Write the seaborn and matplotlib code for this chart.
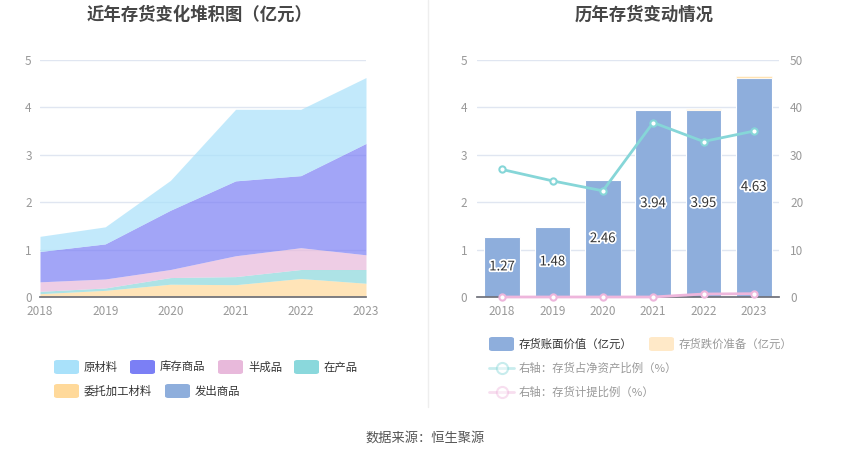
import numpy as np
import pandas as pd
import matplotlib
matplotlib.use("Agg")
import matplotlib.pyplot as plt
import matplotlib.patheffects as pe
from matplotlib.patches import FancyBboxPatch
from matplotlib.lines import Line2D
import seaborn as sns

# ---------------- data ----------------
years = ["2018", "2019", "2020", "2021", "2022", "2023"]
# left: stacked inventory composition (亿元), bottom -> top
fachu = [0.0, 0.0, 0.0, 0.0, 0.0, 0.0]                 # 发出商品
weituo = [0.07, 0.14, 0.27, 0.26, 0.39, 0.29]          # 委托加工材料
zaichan = [0.05, 0.05, 0.14, 0.17, 0.19, 0.29]         # 在产品
banchengpin = [0.20, 0.19, 0.17, 0.44, 0.46, 0.31]     # 半成品
kucun = [0.64, 0.74, 1.25, 1.58, 1.52, 2.35]           # 库存商品
yuancailiao = [0.32, 0.36, 0.63, 1.51, 1.40, 1.39]     # 原材料

# right: book value, impairment reserve, ratios
book_value = [1.27, 1.48, 2.46, 3.94, 3.95, 4.63]
reserve = [0.0, 0.0, 0.0, 0.0, 0.02, 0.04]
ratio_net_assets = [26.9, 24.5, 22.4, 36.8, 32.8, 35.0]
ratio_provision = [0.0, 0.0, 0.0, 0.0, 0.63, 0.70]

# ---------------- style ----------------
sns.set_theme(style="white")
plt.rcParams['font.family'] = ['Noto Sans CJK SC', 'DejaVu Sans']
plt.rcParams['axes.unicode_minus'] = False

W, H = 850, 459
fig = plt.figure(figsize=(8.5, 4.59), dpi=100)
fig.patch.set_facecolor("white")

def fx(px):
    return px / W

def fy(py):
    return 1 - py / H

grid_c = "#e0e6f1"
tick_c = "#999999"
axis_c = "#6e7079"

c_yuan = "#a9e1fa"
c_kucun = "#7b7ff5"
c_ban = "#e8b9db"
c_zai = "#8ad8dc"
c_wei = "#ffd99a"
c_fachu = "#8eaedc"

# ---------------- left chart ----------------
axL = fig.add_axes([fx(40), fy(297), fx(366) - fx(40), fy(60) - fy(297)])
x = np.arange(len(years))
axL.stackplot(x, fachu, weituo, zaichan, banchengpin, kucun, yuancailiao,
              colors=[c_fachu, c_wei, c_zai, c_ban, c_kucun, c_yuan],
              alpha=0.7, linewidth=0)
axL.set_xlim(0, 5)
axL.set_ylim(0, 5)
axL.set_yticks([0, 1, 2, 3, 4, 5])
axL.set_xticks(x)
axL.set_xticklabels(years)
axL.yaxis.grid(True, color=grid_c, linewidth=1)
axL.set_axisbelow(True)
for s in ["top", "right", "left"]:
    axL.spines[s].set_visible(False)
axL.spines["bottom"].set_color(axis_c)
axL.tick_params(axis="x", colors=tick_c, labelsize=8.5, length=4, width=1,
                direction="out", pad=2)
axL.tick_params(axis="x", color=axis_c)
axL.tick_params(axis="y", colors=tick_c, labelsize=8.5, length=0, pad=6)

# ---------------- right chart ----------------
axR = fig.add_axes([fx(477), fy(297), fx(779) - fx(477), fy(60) - fy(297)])
df = pd.DataFrame({"year": years, "pos": x, "book": book_value,
                   "reserve": reserve, "r1": ratio_net_assets,
                   "r2": ratio_provision})
sns.barplot(data=df, x="pos", y="book", native_scale=True, color=c_fachu,
            saturation=1, width=0.71, ax=axR, edgecolor="white",
            linewidth=0.8)
axR.bar(df["pos"], df["reserve"], bottom=df["book"], width=0.71,
        color="#ffe3b3", edgecolor="white", linewidth=0.4)
for xi, v in zip(x, book_value):
    axR.text(xi, v / 2, f"{v:.2f}", ha="center", va="center", fontsize=9.5,
             color="#333333",
             path_effects=[pe.withStroke(linewidth=2.5, foreground="white")],
             zorder=5)
axR.set_xlim(-0.5, 5.5)
axR.set_ylim(0, 5)
axR.set_yticks([0, 1, 2, 3, 4, 5])
axR.set_xticks(x)
axR.set_xticklabels(years)
axR.set_xlabel("")
axR.set_ylabel("")
axR.yaxis.grid(True, color=grid_c, linewidth=1)
axR.set_axisbelow(True)
for s in ["top", "right", "left"]:
    axR.spines[s].set_visible(False)
axR.spines["bottom"].set_color(axis_c)
axR.tick_params(axis="x", colors=tick_c, labelsize=8.5, length=4, width=1,
                pad=2)
axR.tick_params(axis="x", color=axis_c)
axR.tick_params(axis="y", colors=tick_c, labelsize=8.5, length=0, pad=7)

axR2 = axR.twinx()
sns.lineplot(data=df, x="pos", y="r1", ax=axR2, color="#86d6d8", linewidth=2,
             marker="o", markersize=4.5, markerfacecolor="white",
             markeredgecolor="#86d6d8", markeredgewidth=1.5)
sns.lineplot(data=df, x="pos", y="r2", ax=axR2, color="#eeb6dc", linewidth=2,
             marker="o", markersize=4.5, markerfacecolor="white",
             markeredgecolor="#eeb6dc", markeredgewidth=1.5, clip_on=False)
axR2.set_ylim(0, 50)
axR2.set_yticks([0, 10, 20, 30, 40, 50])
axR2.set_xlim(-0.5, 5.5)
axR2.set_xlabel("")
axR2.set_ylabel("")
for s in ["top", "right", "left", "bottom"]:
    axR2.spines[s].set_visible(False)
axR2.tick_params(axis="y", colors=tick_c, labelsize=8.5, length=0, pad=8)
axR2.grid(False)

# ---------------- titles, divider, source ----------------
fig.text(fx(200), fy(15), "近年存货变化堆积图（亿元）", ha="center", va="center",
         fontsize=12.5, fontweight="bold", color="#464646")
fig.text(fx(644), fy(15), "历年存货变动情况", ha="center", va="center",
         fontsize=12.5, fontweight="bold", color="#464646")
fig.add_artist(Line2D([fx(428), fx(428)], [fy(0), fy(407)], color="#eeeeee",
                      linewidth=1))
fig.text(fx(425), fy(438), "数据来源：恒生聚源", ha="center", va="center",
         fontsize=9.5, color="#555555")

# ---------------- legends ----------------
def patch(px, py, color):
    w, h = 25, 14
    p = FancyBboxPatch((fx(px), fy(py + h / 2)), fx(w), h / H,
                       boxstyle="round,pad=0,rounding_size=0.004",
                       transform=fig.transFigure, facecolor=color,
                       edgecolor="none")
    fig.add_artist(p)

def label(px, py, text, color="#333333"):
    fig.text(fx(px), fy(py), text, ha="left", va="center", fontsize=8.2,
             color=color)

def line_item(px, py, color):
    fig.add_artist(Line2D([fx(px), fx(px + 25)], [fy(py), fy(py)],
                          color=color, linewidth=2, alpha=0.45))
    fig.add_artist(Line2D([fx(px + 12.5)], [fy(py)], marker="o", markersize=8,
                          markerfacecolor="white", markeredgecolor=color,
                          markeredgewidth=1.5, alpha=0.45, linestyle="none"))

legend_left = [
    (54, 367, c_yuan, "原材料"),
    (130, 367, c_kucun, "库存商品"),
    (218, 367, c_ban, "半成品"),
    (294, 367, c_zai, "在产品"),
    (54, 391, c_wei, "委托加工材料"),
    (165, 391, c_fachu, "发出商品"),
]
for px, py, c, t in legend_left:
    patch(px, py, c)
    label(px + 30, py, t)

patch(489, 344, c_fachu)
label(519, 344, "存货账面价值（亿元）")
patch(649, 344, "#ffe9c8")
label(679, 344, "存货跌价准备（亿元）", color="#999999")
line_item(489, 368, "#86d6d8")
label(519, 368, "右轴：存货占净资产比例（%）", color="#999999")
line_item(489, 392, "#eeb6dc")
label(519, 392, "右轴：存货计提比例（%）", color="#999999")

fig.savefig("out.png", dpi=100, facecolor="white")
